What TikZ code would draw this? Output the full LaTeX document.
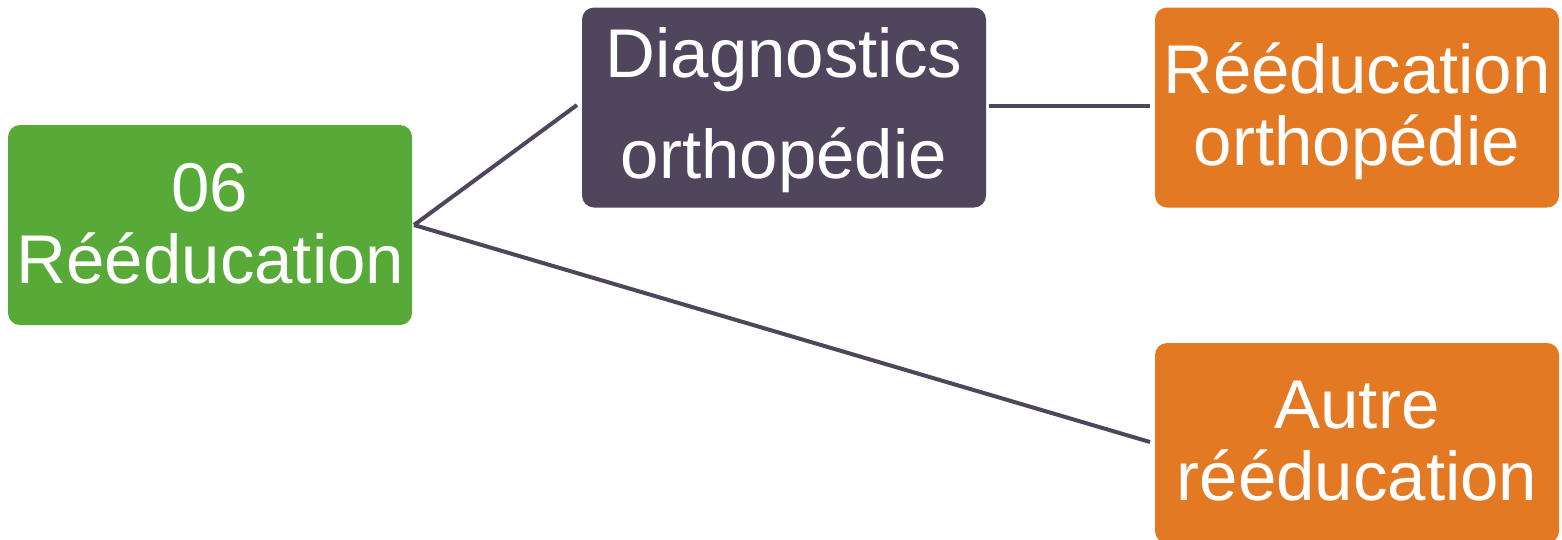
\documentclass[tikz,border=0pt]{standalone}
\usepackage{fontspec}
\setmainfont{Liberation Sans}
\definecolor{cgreen}{RGB}{88,170,56}
\definecolor{cpurple}{RGB}{79,69,92}
\definecolor{corange}{RGB}{228,121,36}
\tikzset{
  box/.style={draw=none, rounded corners=12pt, minimum width=404pt, minimum height=200pt, inner sep=0pt},
  lbl/.style={anchor=base, text=white, font=\fontsize{69}{72}\selectfont, inner sep=0pt},
  conn/.style={draw=cpurple, line width=4pt}
}
\begin{document}
\begin{tikzpicture}[x=1pt,y=-1pt]
\useasboundingbox (0,0) rectangle (1562,539);
% boxes
\node[box, fill=cgreen] (root) at (210,225) {};
\node[box, fill=cpurple] (diag) at (784,107.5) {};
\node[box, fill=corange] (reed) at (1357,107.5) {};
\node[box, fill=corange] (autre) at (1357,443) {};
% texts
\node[lbl] (root1) at (210,211) {06};
\node[lbl] (root2) at (210.5,283) {Rééducation};
\node[lbl] (diag1) at (784,77) {Diagnostics};
\node[lbl] (diag2) at (784,178) {orthopédie};
\node[lbl] (reed1) at (1357,93) {Rééducation};
\node[lbl] (reed2) at (1357,165) {orthopédie};
\node[lbl] (autre1) at (1357,428) {Autre};
\node[lbl] (autre2) at (1357,500) {rééducation};
% connectors
\coordinate (rootout) at (414,225);
\coordinate (diagin) at (577,105);
\coordinate (diagout) at (989,106);
\coordinate (reedin) at (1150,106);
\coordinate (autrein) at (1150,442);
\draw[conn] (rootout) -- (diagin);
\draw[conn] (diagout) -- (reedin);
\draw[conn] (rootout) -- (autrein);
\end{tikzpicture}
\end{document}
